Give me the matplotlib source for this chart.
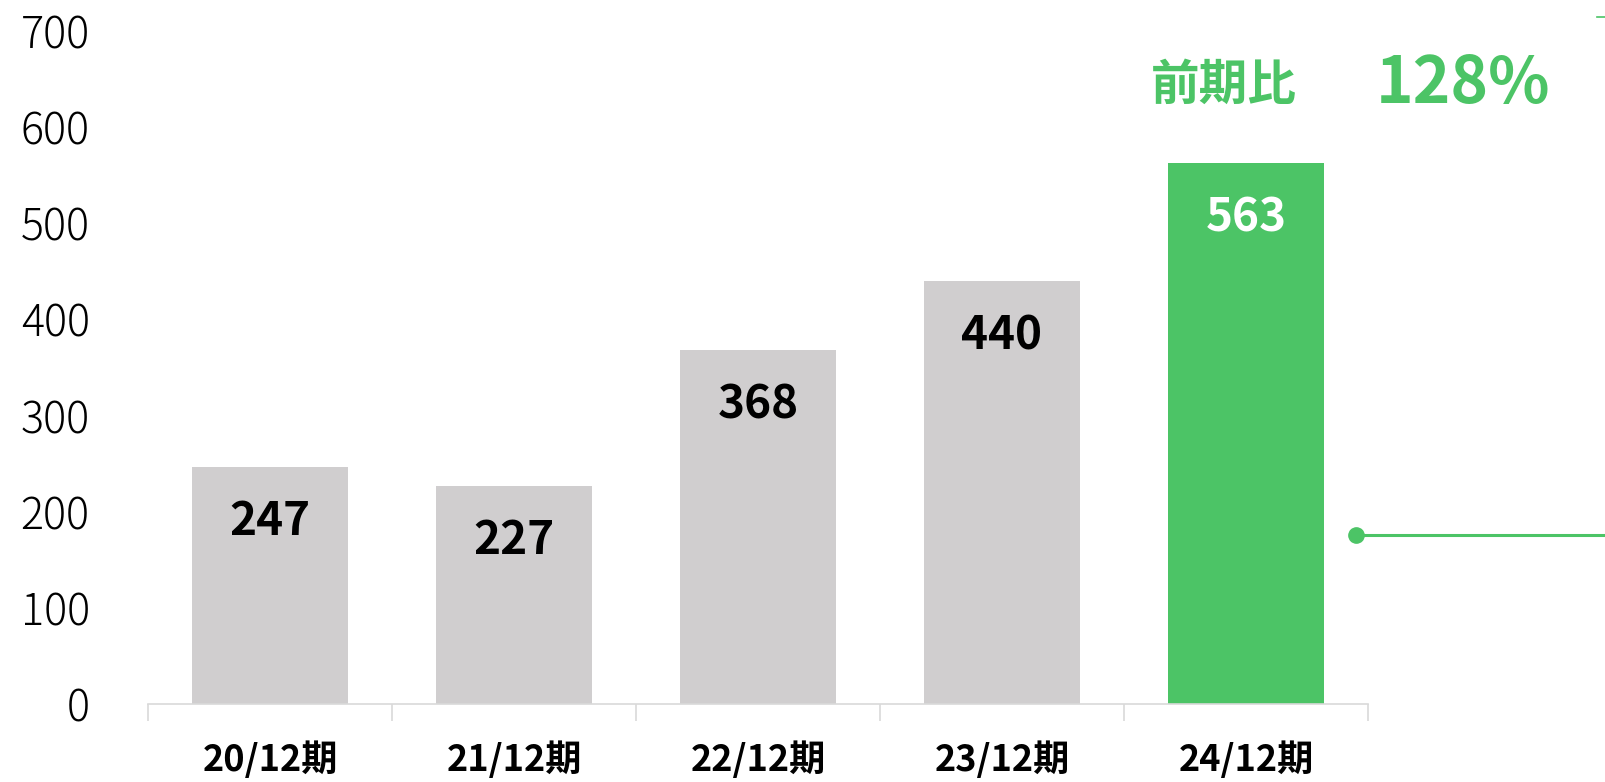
import matplotlib
matplotlib.use('Agg')
import matplotlib.pyplot as plt
import numpy as np

plt.rcParams['font.family'] = ['Noto Sans CJK JP', 'DejaVu Sans']

periods = ['20/12期', '21/12期', '22/12期', '23/12期', '24/12期']
sales = [247, 227, 368, 440, 563]
yticks = [0, 100, 200, 300, 400, 500, 600, 700]
ratio_label = '前期比'
ratio_value = '128%'
connector_y = 176

gray = '#D0CECF'
green = '#4CC466'
colors = [gray] * 4 + [green]
label_colors = ['black'] * 4 + ['white']

fig = plt.figure(figsize=(16.05, 7.82), dpi=100)
ax = fig.add_axes([0.0922, 0.0997, 0.7601, 0.8607])

x = np.arange(len(periods))
bars = ax.bar(x, sales, width=0.64, color=colors, zorder=2)

for b, v, c in zip(bars, sales, label_colors):
    ax.annotate(str(v), (b.get_x() + b.get_width() / 2, v), xytext=(0, -40),
                textcoords='offset points', ha='center', va='center',
                fontsize=33, fontweight='bold', color=c)

ax.set_xlim(-0.5, len(periods) - 0.5)
ax.set_ylim(0, 700)
ax.set_yticks(yticks)
ax.set_yticklabels([str(t) for t in yticks], fontsize=31, fontweight='light')
ax.tick_params(axis='y', length=0, pad=42)

ax.set_xticks(x)
ax.set_xticklabels(periods, fontsize=26, fontweight='bold')
ax.set_xticks(np.arange(len(periods) + 1) - 0.5, minor=True)
ax.tick_params(axis='x', which='major', length=0, pad=27)
ax.tick_params(axis='x', which='minor', length=12, color='#D9D9D9', width=1.2)

for s in ['top', 'right', 'left']:
    ax.spines[s].set_visible(False)
ax.spines['bottom'].set_color('#D9D9D9')
ax.spines['bottom'].set_linewidth(1.2)

# growth annotation
ax.text(3.91, 643, ratio_label, ha='center', va='center', fontsize=35,
        fontweight='bold', color=green)
ax.text(4.89, 645, ratio_value, ha='center', va='center', fontsize=46,
        fontweight='bold', color=green, clip_on=False)

# connector line to the right
ax.plot([4.45, 5.6], [connector_y, connector_y], color=green, lw=2.2,
        clip_on=False, zorder=3)
ax.plot([4.45], [connector_y], 'o', color=green, ms=11, clip_on=False, zorder=3)
fig.lines.append(plt.Line2D([0.995, 1.0], [0.978, 0.978], color=green, lw=1.2,
                            transform=fig.transFigure))

fig.savefig('out.png', dpi=100)
